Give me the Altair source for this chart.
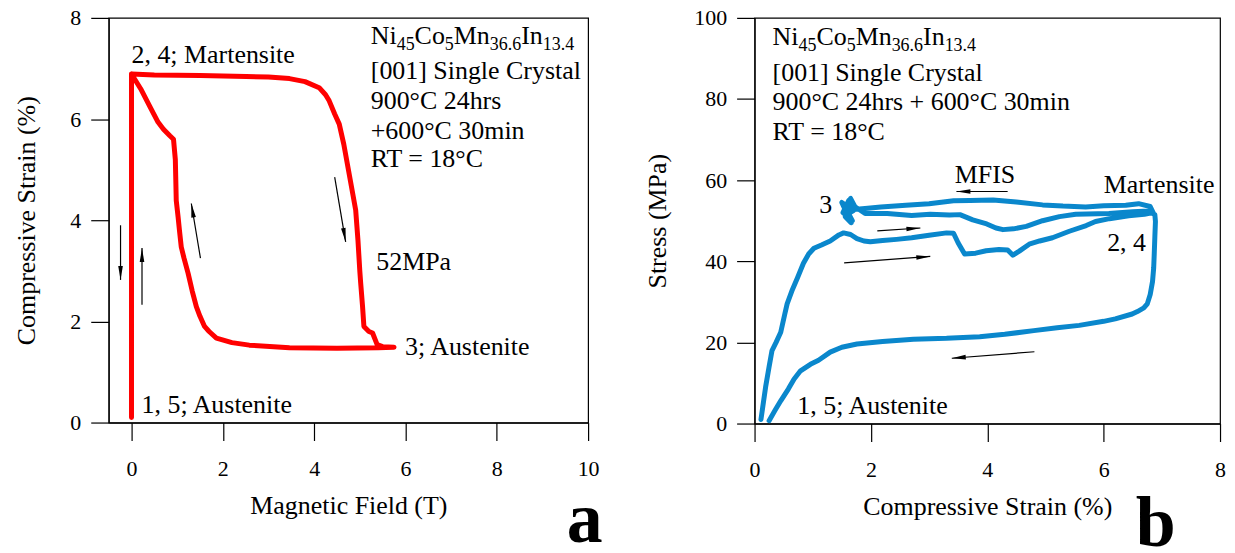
import math
import altair as alt
import pandas as pd

FONT = "Liberation Serif"

# ---------------- Panel a: strain vs magnetic field ----------------
a_field = [0, 0, 0,
           0.5, 1.5, 2.51, 3.0, 3.46, 3.8, 4.11, 4.25, 4.33, 4.45, 4.55, 4.65, 4.75, 4.85, 4.91,
           4.96, 5.0, 5.02, 5.06, 5.09, 5.2, 5.28, 5.38, 5.5, 5.75,
           5.4, 4.5, 3.46, 2.58, 2.2, 1.86, 1.70, 1.60, 1.50, 1.42, 1.33, 1.24, 1.15, 1.09,
           1.05, 1.02, 0.98, 0.97, 0.96, 0.92, 0.84, 0.7, 0.58, 0.4, 0.2, 0, 0]
a_strain = [0.10, 3.5, 6.89,
            6.87, 6.86, 6.84, 6.83, 6.80, 6.74, 6.62, 6.48, 6.36, 6.10, 5.90, 5.5, 5.0, 4.5, 4.2,
            3.6, 3.0, 2.75, 2.3, 1.90, 1.80, 1.77, 1.54, 1.50, 1.49,
            1.48, 1.47, 1.48, 1.53, 1.58, 1.67, 1.80, 1.90, 2.10, 2.29, 2.60, 2.95, 3.25, 3.47,
            3.80, 4.07, 4.39, 4.8, 5.2, 5.60, 5.67, 5.80, 5.94, 6.25, 6.6, 6.89, 0.10]

a_arrow_x0 = [-0.24, 0.23, 1.51, 4.45]
a_arrow_y0 = [3.90, 2.33, 3.25, 4.85]
a_arrow_x1 = [-0.24, 0.23, 1.31, 4.69]
a_arrow_y1 = [2.82, 3.45, 4.33, 3.57]

a_label_text = ["2, 4; Martensite", "52MPa", "3; Austenite", "1, 5; Austenite"]
a_label_x = [0.0, 5.36, 5.99, 0.22]
a_label_y = [7.10, 3.01, 1.34, 0.19]

a_info_text = ["[001] Single Crystal", "900°C 24hrs", "+600°C 30min", "RT = 18°C"]
a_info_x = 5.24
a_info_y = [6.79, 6.20, 5.61, 5.05]
a_formula_y = 7.48

# ---------------- Panel b: stress vs strain ----------------
b_strain = [0.11, 0.14, 0.19, 0.25, 0.30, 0.37, 0.45, 0.52, 0.56, 0.65, 0.74, 0.84, 0.93, 1.02, 1.15, 1.3,
            1.45, 1.53, 1.65, 1.76, 1.88, 1.99, 2.2, 2.44, 2.7, 3.0, 3.30, 3.42, 3.5, 3.61, 3.8, 3.98,
            4.2, 4.35, 4.44, 4.55, 4.72, 4.9, 5.12, 5.41, 5.7, 5.86, 6.1, 6.43, 6.7, 6.85,
            6.8, 6.6, 6.38, 6.0, 5.69, 5.3, 4.95, 4.5, 4.10, 3.7, 3.42, 3.0, 2.6, 2.17, 1.9, 1.75,
            1.65, 1.6, 1.55, 1.68, 1.52, 1.62, 1.58, 1.7, 1.5, 1.66, 1.56, 1.72,
            1.9, 2.28, 2.7, 3.02, 3.35, 3.53, 3.75, 3.99, 4.15, 4.27, 4.45, 4.67, 4.95, 5.24, 5.52,
            6.09, 6.5, 6.77, 6.88,
            6.89, 6.88, 6.87, 6.86, 6.84, 6.80, 6.75, 6.69, 6.58, 6.49, 6.2, 6.0, 5.58, 5.2, 4.8,
            4.3, 3.87, 3.3, 2.73, 2.2, 1.76, 1.5, 1.30, 1.1, 0.96, 0.79, 0.68, 0.58, 0.45, 0.35, 0.25]
b_stress = [1.0, 4, 9, 14, 18, 20, 22.5, 27, 29.5, 33, 36, 39.5, 41.8, 43.2, 44, 45,
            46.5, 47, 46.6, 45.6, 45, 44.8, 45.1, 45.4, 45.8, 46.4, 47.0, 46.9, 44.5, 41.8, 42.0, 42.6,
            42.9, 42.8, 41.5, 42.5, 44.2, 45, 45.8, 47.4, 48.8, 49.8, 50.5, 51.2, 51.6, 52.0,
            53.5, 54.2, 53.8, 53.7, 53.4, 53.6, 53.9, 54.6, 55.1, 55.0, 54.9, 54.2, 53.8, 53.4, 53.0, 52.8,
            55.5, 50.5, 53.5, 50, 52, 55, 51.5, 52.5, 54.5, 49.5, 51, 53.5,
            51.8, 51.8, 51.3, 51.6, 51.4, 51.5, 50.2, 49.2, 48.2, 47.8, 48.0, 48.6, 50.0, 51.0, 51.6,
            51.8, 52.2, 52.4, 51.5,
            49.8, 46, 42, 38.4, 35, 31.8, 29.5, 28.5, 27.6, 27.0, 25.8, 25.2, 24.2, 23.6, 22.9,
            22.0, 21.4, 21.0, 20.8, 20.2, 19.6, 18.8, 17.6, 15.6, 14.6, 13.0, 11, 8.5, 5.6, 3.2, 0.7]

b_arrow_x0 = [4.35, 2.11, 1.54, 4.81]
b_arrow_y0 = [57.2, 47.5, 39.6, 17.7]
b_arrow_x1 = [3.47, 2.85, 3.02, 3.39]
b_arrow_y1 = [57.2, 48.2, 41.2, 16.1]

b_label_text = ["3", "MFIS", "Martensite", "2, 4", "1, 5; Austenite"]
b_label_x = [1.11, 3.44, 6.0, 6.06, 0.735]
b_label_y = [51.85, 59.2, 56.8, 42.45, 2.38]

b_info_text = ["[001] Single Crystal", "900°C 24hrs + 600°C 30min", "RT = 18°C"]
b_info_x = 0.31
b_info_y = [84.5, 77.2, 69.9]
b_formula_y = 93.2

formula_parts = [("Ni", False), ("45", True), ("Co", False), ("5", True),
                 ("Mn", False), ("36.6", True), ("In", False), ("13.4", True)]

# Times-like advance widths (em) for building the subscripted formula
WIDTHS = {"N": 0.722, "i": 0.278, "C": 0.667, "o": 0.5, "M": 0.889, "n": 0.5,
          "I": 0.333, ".": 0.25}

MAIN_FS = 26
SUB_FS = 18

LW, LH = 481, 406
RW, RH = 467, 407


def text_width(s, fs):
    return sum(WIDTHS.get(c, 0.5) for c in s) * fs


def enc(xdom, ydom, xticks, yticks, xtitle, ytitle, ytp):
    xe = alt.X("x:Q", scale=alt.Scale(domain=xdom, nice=False, zero=False),
               axis=alt.Axis(values=xticks, title=xtitle, labelFlush=False, titlePadding=13))
    ye = alt.Y("y:Q", scale=alt.Scale(domain=ydom, nice=False, zero=False),
               axis=alt.Axis(values=yticks, title=ytitle, titlePadding=ytp))
    return xe, ye


def panel(xs, ys, color, x0, y0, x1, y1, ltext, lx, ly, itext, ix, iy, fy,
          xdom, ydom, xticks, yticks, xtitle, ytitle, ytp, w, h, letter, letter_x, letter_y):
    xe, ye = enc(xdom, ydom, xticks, yticks, xtitle, ytitle, ytp)
    kx = w / (xdom[1] - xdom[0])
    ky = h / (ydom[1] - ydom[0])

    df = pd.DataFrame({"x": xs, "y": ys, "o": list(range(len(xs)))})
    line = alt.Chart(df).mark_line(color=color, strokeWidth=5, strokeJoin="round",
                                   strokeCap="round").encode(x=xe, y=ye, order="o:Q")

    angs = []
    for a, b, c, d in zip(x0, y0, x1, y1):
        ang = math.degrees(math.atan2((c - a) * kx, (d - b) * ky)) % 360
        angs.append(ang)
    adf = pd.DataFrame({"x": x0, "y": y0, "x2": x1, "y2": y1, "ang": angs})
    shafts = alt.Chart(adf).mark_rule(color="black", strokeWidth=1.2).encode(
        x=xe, y=ye, x2="x2:Q", y2="y2:Q")
    hdf = pd.DataFrame({"x": x1, "y": y1, "ang": angs})
    heads = alt.Chart(hdf).mark_point(shape="M0,0L0.33,2L-0.33,2Z", filled=True, color="black",
                                      size=196, opacity=1, strokeWidth=0).encode(
        x=xe, y=ye, angle=alt.Angle("ang:Q", scale=None))

    ldf = pd.DataFrame({"x": lx, "y": ly, "t": ltext})
    labels = alt.Chart(ldf).mark_text(align="left", baseline="alphabetic", font=FONT,
                                      fontSize=MAIN_FS, color="black").encode(
        x=xe, y=ye, text="t:N")

    idf = pd.DataFrame({"x": [ix] * len(itext), "y": iy, "t": itext})
    info = alt.Chart(idf).mark_text(align="left", baseline="alphabetic", font=FONT,
                                    fontSize=MAIN_FS, color="black").encode(
        x=xe, y=ye, text="t:N")

    layers = [line, shafts, heads, labels, info]

    off = 0.0
    for s, sub in formula_parts:
        fs = SUB_FS if sub else MAIN_FS
        fdf = pd.DataFrame({"x": [ix], "y": [fy], "t": [s]})
        layers.append(alt.Chart(fdf).mark_text(align="left", baseline="alphabetic", font=FONT,
                                               fontSize=fs, color="black", dx=off,
                                               dy=6 if sub else 0).encode(
            x=xe, y=ye, text="t:N"))
        off += text_width(s, fs)

    letdf = pd.DataFrame({"x": [letter_x], "y": [letter_y], "t": [letter]})
    layers.append(alt.Chart(letdf).mark_text(align="left", baseline="alphabetic", font=FONT,
                                             fontSize=72, fontWeight="bold", color="black").encode(
        x=xe, y=ye, text="t:N"))

    return alt.layer(*layers).properties(width=w, height=h)


left = panel(a_field, a_strain, "#ff0000", a_arrow_x0, a_arrow_y0, a_arrow_x1, a_arrow_y1,
             a_label_text, a_label_x, a_label_y, a_info_text, a_info_x, a_info_y, a_formula_y,
             [-0.5, 10], [0, 8], [0, 2, 4, 6, 8, 10], [0, 2, 4, 6, 8],
             "Magnetic Field (T)", "Compressive Strain (%)", 30, LW, LH, "a", 9.53, -2.36)

right = panel(b_strain, b_stress, "#0a87cc", b_arrow_x0, b_arrow_y0, b_arrow_x1, b_arrow_y1,
              b_label_text, b_label_x, b_label_y, b_info_text, b_info_x, b_info_y, b_formula_y,
              [0, 8], [0, 100], [0, 2, 4, 6, 8], [0, 20, 40, 60, 80, 100],
              "Compressive Strain (%)", "Stress (MPa)", 23, RW, RH, "b", 6.55, -30.2)

chart = alt.hconcat(left, right, spacing=40).configure(
    padding={"left": 5, "top": -3, "right": 0, "bottom": 0},
    background="white",
).configure_view(
    stroke="black", strokeWidth=1.2
).configure_axis(
    grid=False, domainColor="black", domainWidth=1.2, tickColor="black", tickWidth=1.2,
    tickSize=18, labelFont=FONT, titleFont=FONT, labelFontSize=22, titleFontSize=26,
    labelColor="black", titleColor="black", titleFontWeight="normal", labelPadding=10,
).configure_axisX(labelPadding=18)

chart.save("out.html", embed_options={"renderer": "svg", "actions": False})
